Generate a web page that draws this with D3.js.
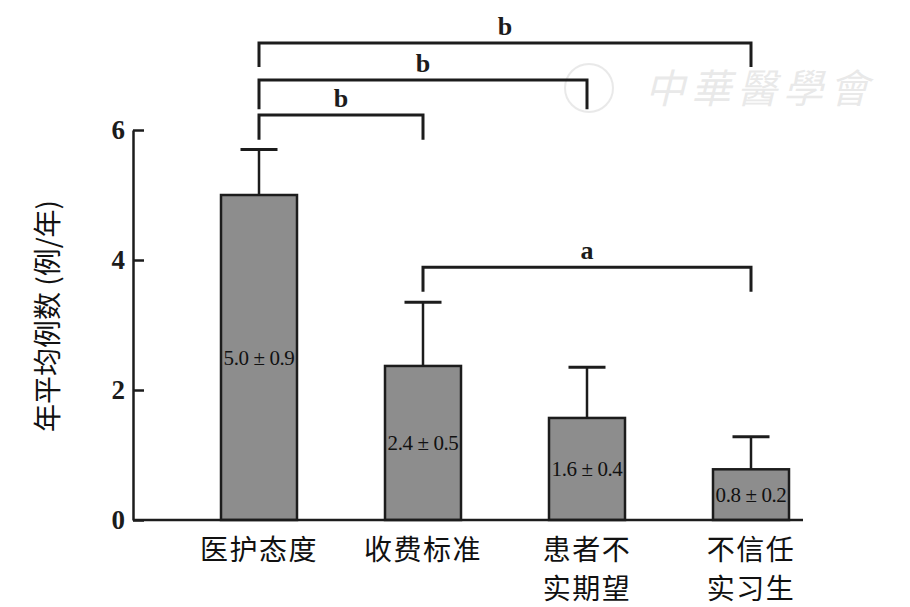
<!DOCTYPE html>
<meta charset="utf-8">
<style type="text/css">
html, body{
	padding: 0;
	margin: 0;
	background: white;
}
.num{ font-family: "Liberation Serif", "DejaVu Serif", serif; }
.cjk{ font-family: "Noto Sans CJK SC", sans-serif; }
</style>

<svg width=910 height=607></svg>

<script src="https://cdn.jsdelivr.net/npm/d3@7"></script>

<script type="text/javascript">
	// data
	var categories = ['医护态度', '收费标准', '患者不\n实期望', '不信任\n实习生'];
	var means = [5.0, 2.37, 1.57, 0.78];
	var errTops = [5.7, 3.35, 2.35, 1.28];
	var barLabels = ['5.0 ± 0.9', '2.4 ± 0.5', '1.6 ± 0.4', '0.8 ± 0.2'];
	var yTicks = [0, 2, 4, 6];
	// significance brackets: from category, to category, level (y value), leg length, letter
	var brackets = [
		{from: 0, to: 3, y: 7.34, leg: 0.37, letter: 'b'},
		{from: 0, to: 2, y: 6.77, leg: 0.45, letter: 'b'},
		{from: 0, to: 1, y: 6.23, leg: 0.38, letter: 'b'},
		{from: 1, to: 3, y: 3.89, leg: 0.38, letter: 'a'}
	];

	var svg = d3.select('svg');
	var ink = '#1c1c1c';

	var x = d3.scalePoint().domain(categories).range([259, 751]);
	var y = d3.scaleLinear().domain([0, 6]).range([520, 130]);
	var barW = 76, capW = 37;

	// watermark
	var wm = svg.append('g').style('opacity', 0.25);
	wm.append('circle').attr('cx', 589).attr('cy', 88).attr('r', 24)
		.style('fill', 'none').style('stroke', '#aaa').style('stroke-width', 2);
	wm.append('text').attr('x', 645).attr('y', 103).text('中華醫學會')
		.attr('class', 'cjk')
		.style('font-size', '40px').style('fill', '#aaa').style('font-style', 'italic')
		.style('letter-spacing', '6px');

	// bars
	svg.selectAll('rect.bar')
		.data(means)
		.enter()
		.append('rect')
		.attr('class', 'bar')
		.attr('x', (d,p)=>x(categories[p]) - barW/2)
		.attr('y', d=>y(d))
		.attr('width', barW)
		.attr('height', d=>y(0) - y(d))
		.style('fill', '#8d8d8d')
		.style('stroke', ink)
		.style('stroke-width', 2.5);

	// error bars
	var eb = svg.selectAll('g.err')
		.data(errTops)
		.enter()
		.append('g');
	eb.append('line')
		.attr('x1', (d,p)=>x(categories[p])).attr('x2', (d,p)=>x(categories[p]))
		.attr('y1', (d,p)=>y(means[p])).attr('y2', d=>y(d))
		.style('stroke', ink).style('stroke-width', 2.5);
	eb.append('line')
		.attr('x1', (d,p)=>x(categories[p]) - capW/2).attr('x2', (d,p)=>x(categories[p]) + capW/2)
		.attr('y1', d=>y(d)).attr('y2', d=>y(d))
		.style('stroke', ink).style('stroke-width', 3);

	// labels in bars
	svg.selectAll('text.val')
		.data(barLabels)
		.enter()
		.append('text')
		.attr('class', 'num')
		.attr('x', (d,p)=>x(categories[p]))
		.attr('y', (d,p)=>(y(means[p]) + y(0))/2)
		.attr('dy', '0.35em')
		.style('text-anchor', 'middle')
		.style('font-size', '21px')
		.style('letter-spacing', '-0.4px')
		.style('fill', '#111')
		.text(d=>d);

	// y axis
	var yAxis = svg.append('g')
		.attr('transform', 'translate(133,0)')
		.call(d3.axisLeft(y).tickValues(yTicks).tickFormat(d3.format('d'))
			.tickSizeInner(-11).tickSizeOuter(0).tickPadding(8));
	yAxis.select('.domain').style('stroke', ink).style('stroke-width', 2.5);
	yAxis.selectAll('.tick line').style('stroke', ink).style('stroke-width', 2.5);
	yAxis.selectAll('.tick text')
		.attr('class', 'num')
		.style('font-size', '27px').style('font-weight', 'bold').style('fill', ink);

	// x axis line
	svg.append('line')
		.attr('x1', 133).attr('x2', 803)
		.attr('y1', y(0)).attr('y2', y(0))
		.style('stroke', ink).style('stroke-width', 2.5);

	// category labels, one text per line
	categories.forEach(c=>{
		svg.selectAll(null)
			.data(c.split('\n'))
			.enter()
			.append('text')
			.attr('class', 'cjk')
			.attr('x', x(c))
			.attr('y', (d,p)=>560 + p*39)
			.style('text-anchor', 'middle')
			.style('font-size', '28px')
			.style('letter-spacing', '1.5px')
			.style('fill', '#111')
			.text(d=>d);
	});

	// y axis title
	svg.append('text')
		.attr('class', 'cjk')
		.attr('transform', 'translate(58,316) rotate(-90)')
		.style('text-anchor', 'middle')
		.style('font-size', '28px')
		.style('fill', '#111')
		.text('年平均例数 (例/年)');

	// brackets
	var br = svg.selectAll('g.br')
		.data(brackets)
		.enter()
		.append('g');
	br.append('path')
		.attr('d', d=>{
			var x0 = x(categories[d.from]), x1 = x(categories[d.to]);
			return 'M' + x0 + ',' + y(d.y - d.leg) + 'V' + y(d.y) + 'H' + x1 + 'V' + y(d.y - d.leg);
		})
		.style('fill', 'none').style('stroke', ink).style('stroke-width', 3);
	br.append('text')
		.attr('class', 'num')
		.attr('x', d=>(x(categories[d.from]) + x(categories[d.to]))/2)
		.attr('y', d=>y(d.y) - 8)
		.style('text-anchor', 'middle')
		.style('font-size', '26px')
		.style('font-weight', 'bold')
		.style('fill', ink)
		.text(d=>d.letter);
</script>
